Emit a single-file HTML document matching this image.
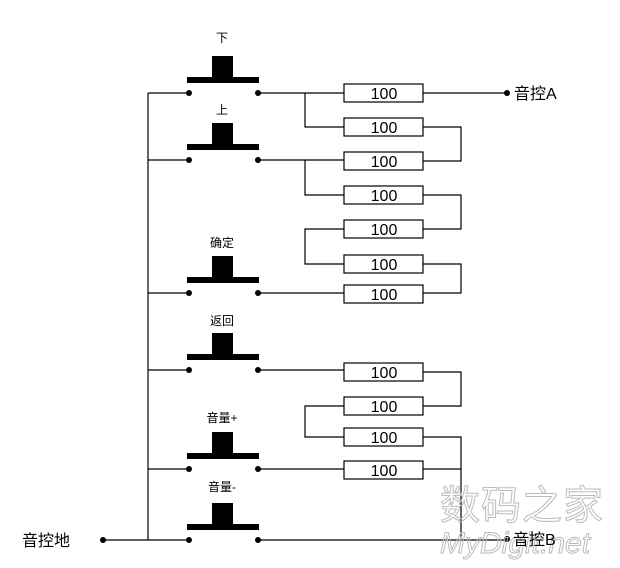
<!DOCTYPE html>
<html><head><meta charset="utf-8"><style>
html,body{margin:0;padding:0;background:#fff;}
svg{display:block;}
text{font-family:"Liberation Sans","Noto Sans CJK SC",sans-serif;}
</style></head><body>
<svg width="620" height="568" viewBox="0 0 620 568" xmlns="http://www.w3.org/2000/svg">
<g stroke="#000" stroke-width="1.2" fill="none">
<line x1="148" y1="93" x2="148" y2="540"/>
<line x1="148" y1="93" x2="189" y2="93"/>
<line x1="148" y1="160" x2="189" y2="160"/>
<line x1="148" y1="293" x2="189" y2="293"/>
<line x1="148" y1="370" x2="189" y2="370"/>
<line x1="148" y1="469" x2="189" y2="469"/>
<line x1="103" y1="540" x2="189" y2="540"/>
<line x1="258" y1="540" x2="507" y2="540"/>
<line x1="258" y1="93" x2="344" y2="93"/>
<line x1="258" y1="160" x2="344" y2="160"/>
<line x1="258" y1="293" x2="344" y2="293"/>
<line x1="258" y1="370" x2="344" y2="370"/>
<line x1="258" y1="469" x2="344" y2="469"/>
<line x1="423" y1="93" x2="507" y2="93"/>
<polyline points="305,93 305,127 344,127"/>
<polyline points="423,127 461,127 461,161 423,161"/>
<polyline points="305,160 305,195 344,195"/>
<polyline points="423,195 461,195 461,229 423,229"/>
<polyline points="344,229 305,229 305,264 344,264"/>
<polyline points="423,264 461,264 461,293 423,293"/>
<polyline points="423,372 461,372 461,406 423,406"/>
<polyline points="344,406 305,406 305,437 344,437"/>
<polyline points="423,437 461,437 461,540"/>
<line x1="423" y1="469" x2="461" y2="469"/>
</g>
<g fill="#fff" stroke="#000" stroke-width="1.2">
<rect x="344" y="84" width="79" height="18"/>
<rect x="344" y="118" width="79" height="18"/>
<rect x="344" y="152" width="79" height="18"/>
<rect x="344" y="186" width="79" height="18"/>
<rect x="344" y="220" width="79" height="18"/>
<rect x="344" y="255" width="79" height="18"/>
<rect x="344" y="285" width="79" height="18"/>
<rect x="344" y="363" width="79" height="18"/>
<rect x="344" y="397" width="79" height="18"/>
<rect x="344" y="428" width="79" height="18"/>
<rect x="344" y="461" width="79" height="18"/>
</g>
<g font-size="16" text-anchor="middle" fill="#000">
<text x="384" y="99">100</text><text x="384" y="133">100</text><text x="384" y="167">100</text>
<text x="384" y="201">100</text><text x="384" y="235">100</text><text x="384" y="270">100</text>
<text x="384" y="300">100</text><text x="384" y="378">100</text><text x="384" y="412">100</text>
<text x="384" y="443">100</text><text x="384" y="476">100</text>
</g>
<g id="btns" fill="#000">
<g transform="translate(0,0)"><rect x="187" y="77" width="72" height="6"/><rect x="212" y="56" width="21" height="22"/><circle cx="189" cy="93" r="3"/><circle cx="258" cy="93" r="3"/></g>
<g transform="translate(0,67)"><rect x="187" y="77" width="72" height="6"/><rect x="212" y="56" width="21" height="22"/><circle cx="189" cy="93" r="3"/><circle cx="258" cy="93" r="3"/></g>
<g transform="translate(0,200)"><rect x="187" y="77" width="72" height="6"/><rect x="212" y="56" width="21" height="22"/><circle cx="189" cy="93" r="3"/><circle cx="258" cy="93" r="3"/></g>
<g transform="translate(0,277)"><rect x="187" y="77" width="72" height="6"/><rect x="212" y="56" width="21" height="22"/><circle cx="189" cy="93" r="3"/><circle cx="258" cy="93" r="3"/></g>
<g transform="translate(0,376)"><rect x="187" y="77" width="72" height="6"/><rect x="212" y="56" width="21" height="22"/><circle cx="189" cy="93" r="3"/><circle cx="258" cy="93" r="3"/></g>
<g transform="translate(0,447)"><rect x="187" y="77" width="72" height="6"/><rect x="212" y="56" width="21" height="22"/><circle cx="189" cy="93" r="3"/><circle cx="258" cy="93" r="3"/></g>
<circle cx="103" cy="540" r="3"/><circle cx="507" cy="93" r="3"/><circle cx="507" cy="539" r="3"/>
</g>
<g font-size="12" text-anchor="middle" fill="#000">
<text x="222" y="42">下</text><text x="222" y="114">上</text><text x="222" y="247">确定</text>
<text x="222" y="325">返回</text><text x="222" y="422">音量+</text><text x="222" y="491">音量-</text>
</g>
<text x="514" y="99" font-size="16" fill="#000">音控A</text>
<text x="22" y="546" font-size="16" fill="#000">音控地</text>
<g fill="none" stroke="#bbb" stroke-width="1">
<text x="440" y="519" font-size="40" letter-spacing="1">数码之家</text>
<text x="440" y="553" font-size="30" font-style="italic">MyDigit.net</text>
</g>
<text x="513" y="545" font-size="16" fill="#000">音控B</text>
</svg>
</body></html>
